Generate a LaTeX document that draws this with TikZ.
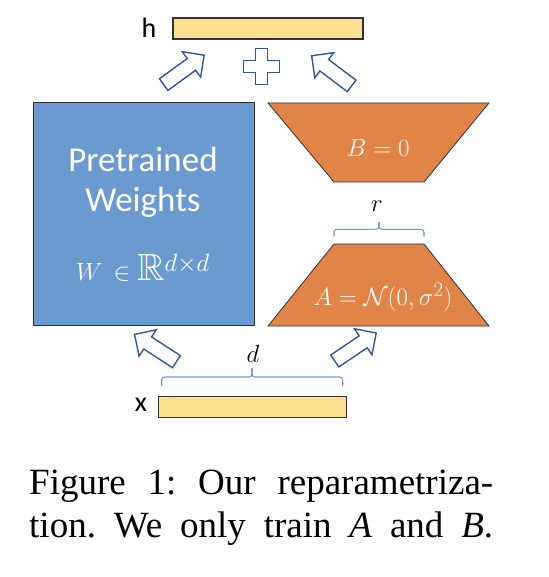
\documentclass[tikz,border=0pt]{standalone}
\usepackage{amsmath}
\usepackage{amssymb}
\usepackage{fontspec}
\newfontfamily\calibrifont{Carlito}
\newfontfamily\timesfont{Liberation Serif}
\usepackage{tikz}
\usetikzlibrary{
    shapes.arrows
}
\definecolor{wblue}{RGB}{106,155,208}
\definecolor{lorange}{RGB}{224,132,72}
\definecolor{vecyellow}{RGB}{250,224,142}
\definecolor{arrowblue}{RGB}{52,87,150}
\definecolor{braceblue}{RGB}{120,150,205}
\tikzset{
    vecbar/.style={draw=black!80, line width=1.2pt, fill=vecyellow, minimum height=21pt, inner sep=0pt},
    trapline/.style={draw=black!80, line width=0.8pt, fill=lorange},
    hollowarrow/.style={single arrow, draw=arrowblue, fill=white, line width=1.4pt, minimum height=50pt, inner sep=6.5pt, single arrow head extend=8.5pt},
    bracestyle/.style={draw=braceblue, line width=1.1pt, rounded corners=3pt},
    matlbl/.style={text=white, font=\fontsize{28}{32}\selectfont},
    captline/.style={anchor=base west, font=\timesfont\fontsize{37}{42}\selectfont, inner sep=0pt},
}

\begin{document}
\frenchspacing
\begin{tikzpicture}[x=1pt, y=1pt]
    \useasboundingbox (0,0) rectangle (548,-577);

    % output and input vectors
    \node[vecbar, minimum width=190pt] (hbar) at (268,-28.5) {};
    \node[font=\calibrifont\fontsize{28}{32}\selectfont] (hlab) at (149,-28) {h};
    \node[vecbar, minimum width=188pt] (xbar) at (252.5,-406.7) {};
    \node[font=\calibrifont\fontsize{28}{32}\selectfont] (xlab) at (141,-405) {x};

    % pretrained weights
    \node[draw=black!80, line width=1pt, fill=wblue, minimum width=221pt, minimum height=223pt] (wbox) at (143.8,-214.2) {};
    \node[text=white, font=\calibrifont\fontsize{35}{40}\selectfont, align=center] (wtxt) at (143,-182) {Pretrained\\Weights};
    \node[text=white, font=\fontsize{38}{42}\selectfont] (wdim) at (143,-268) {$W\,\in\mathbb{R}^{d\times d}$};

    % low rank factors
    \coordinate (bmat) at (378.5,-142.5);
    \draw[trapline] (268,-103) -- (489,-103) -- (424,-182) -- (334,-182) -- cycle;
    \node[matlbl] (blab) at (378,-148) {$B=0$};
    \coordinate (amat) at (378.5,-285);
    \draw[trapline] (334,-244) -- (424,-244) -- (489,-326) -- (268,-326) -- cycle;
    \node[matlbl, font=\fontsize{31}{34}\selectfont] (alab) at (383,-297) {$A=\mathcal{N}(0,\sigma^2)$};

    % plus sign
    \coordinate (plus) at (261.7,-66.7);
    \draw[arrowblue, line width=1.4pt, fill=white] (plus) ++(-6,18) -- ++(12,0) -- ++(0,-12) -- ++(12,0) -- ++(0,-12) -- ++(-12,0) -- ++(0,-12) -- ++(-12,0) -- ++(0,12) -- ++(-12,0) -- ++(0,12) -- ++(12,0) -- cycle;

    % block arrows
    \node[hollowarrow, rotate=36] (wup) at (181,-72) {};
    \node[hollowarrow, rotate=143] (bup) at (334.5,-73) {};
    \node[hollowarrow, rotate=147] (xw) at (158.5,-350) {};
    \node[hollowarrow, rotate=34] (xa) at (352.5,-349) {};

    % braces
    \coordinate (dl) at (161.7,-386);
    \coordinate (dr) at (342.7,-386);
    \draw[bracestyle] (dl) -- ++(0,9) -| (252,-368);
    \draw[bracestyle] (dr) -- ++(0,9) -| (252,-368);
    \node[font=\fontsize{28}{32}\selectfont] (dlab) at (253,-354) {$d$};
    \coordinate (rl) at (334,-236.7);
    \coordinate (rr) at (424,-236.7);
    \draw[bracestyle] (rl) -- ++(0,7.4) -| (379,-222);
    \draw[bracestyle] (rr) -- ++(0,7.4) -| (379,-222);
    \node[font=\fontsize{28}{32}\selectfont] (rlab) at (377,-206) {$r$};

    % caption
    \node[captline] (cap1) at (29,-494) {\makebox[464pt][s]{Figure 1: Our reparametriza-}};
    \node[captline] (cap2) at (29,-537) {\makebox[464pt][s]{tion. We only train \textit{A} and \textit{B}.}};
\end{tikzpicture}
\end{document}
